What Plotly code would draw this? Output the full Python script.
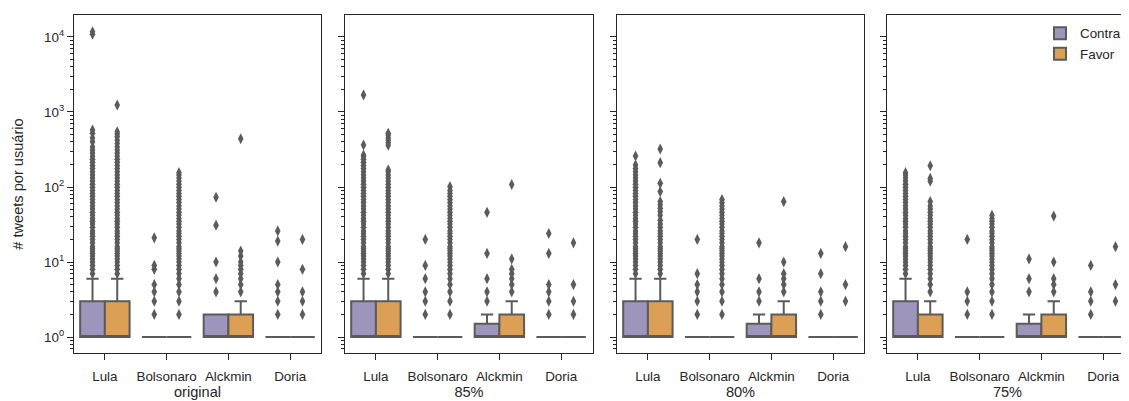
import plotly.graph_objects as go

# ---------------- data ----------------
panels = ["original", "85%", "80%", "75%"]
candidates = ["Lula", "Bolsonaro", "Alckmin", "Doria"]
stances = ["Contra", "Favor"]

# box statistics per panel (rows) and candidate (columns)
contra_q1 = [[1, 1, 1, 1], [1, 1, 1, 1], [1, 1, 1, 1], [1, 1, 1, 1]]
contra_med = [[1, 1, 1, 1], [1, 1, 1, 1], [1, 1, 1, 1], [1, 1, 1, 1]]
contra_q3 = [[3, 1, 2, 1], [3, 1, 1.5, 1], [3, 1, 1.5, 1], [3, 1, 1.5, 1]]
contra_lo = [[1, 1, 1, 1], [1, 1, 1, 1], [1, 1, 1, 1], [1, 1, 1, 1]]
contra_hi = [[6, 1, 2, 1], [6, 1, 2, 1], [6, 1, 2, 1], [6, 1, 2, 1]]

favor_q1 = [[1, 1, 1, 1], [1, 1, 1, 1], [1, 1, 1, 1], [1, 1, 1, 1]]
favor_med = [[1, 1, 1, 1], [1, 1, 1, 1], [1, 1, 1, 1], [1, 1, 1, 1]]
favor_q3 = [[3, 1, 2, 1], [3, 1, 2, 1], [3, 1, 2, 1], [2, 1, 2, 1]]
favor_lo = [[1, 1, 1, 1], [1, 1, 1, 1], [1, 1, 1, 1], [1, 1, 1, 1]]
favor_hi = [[6, 1, 3, 1], [6, 1, 3, 1], [6, 1, 3, 1], [3, 1, 3, 1]]

# outliers, per panel
lula_contra_out = [
    [7, 8, 9, 10, 11, 12, 13, 14, 15, 16, 18, 20, 22, 24, 26, 29, 32, 35, 38, 42, 46, 51, 56, 62, 68, 75,
     82, 90, 99, 109, 120, 132, 145, 160, 176, 194, 213, 234, 257, 283, 311, 342, 400, 450, 520, 575,
     10900, 11700],
    [7, 8, 9, 10, 11, 12, 13, 14, 15, 16, 18, 20, 22, 24, 26, 29, 32, 35, 38, 42, 46, 51, 56, 62, 68, 75,
     82, 90, 99, 109, 120, 132, 145, 160, 176, 194, 213, 234, 257, 267, 363, 1686],
    [7, 8, 9, 10, 11, 12, 13, 14, 15, 16, 18, 20, 22, 24, 26, 29, 32, 35, 38, 42, 46, 51, 56, 62, 68, 75,
     82, 90, 99, 109, 120, 132, 145, 160, 176, 197, 259],
    [7, 8, 9, 10, 11, 12, 13, 14, 15, 16, 18, 20, 22, 24, 26, 29, 32, 35, 38, 42, 46, 51, 56, 62, 68, 75,
     82, 90, 99, 109, 120, 132, 145, 155],
]
lula_favor_out = [
    [7, 8, 9, 10, 11, 12, 13, 14, 15, 16, 18, 20, 22, 24, 26, 29, 32, 35, 38, 42, 46, 51, 56, 62, 68, 75,
     82, 90, 99, 109, 120, 132, 145, 160, 176, 194, 213, 234, 257, 283, 311, 342, 380, 420, 470, 510, 545,
     1240],
    [7, 8, 9, 10, 11, 12, 13, 14, 15, 16, 18, 20, 22, 24, 26, 29, 32, 35, 38, 42, 46, 51, 56, 62, 68, 75,
     82, 90, 99, 109, 120, 132, 145, 160, 169, 360, 390, 420, 450, 490, 520],
    [7, 8, 9, 10, 11, 12, 13, 14, 15, 16, 18, 20, 22, 24, 26, 29, 32, 36, 42, 47, 52, 58, 64, 87, 112,
     211, 321],
    [4, 5, 6, 7, 8, 9, 10, 11, 12, 13, 14, 15, 16, 18, 20, 22, 24, 26, 29, 32, 35, 38, 42, 46, 51, 56, 64,
     120, 130, 192],
]
bolsonaro_contra_out = [
    [2, 3, 4, 5, 8, 9, 21],
    [2, 3, 4, 6, 9, 20],
    [2, 3, 4, 5, 7, 20],
    [2, 3, 4, 20],
]
bolsonaro_favor_out = [
    [2, 3, 4, 5, 6, 7, 8, 9, 10, 11, 12, 13, 14, 15, 16, 18, 20, 22, 24, 26, 29, 32, 35, 38, 42, 46, 51,
     56, 62, 68, 75, 82, 90, 99, 109, 120, 132, 145, 155],
    [2, 3, 4, 5, 6, 7, 8, 9, 10, 11, 12, 13, 14, 15, 16, 18, 20, 22, 24, 26, 29, 32, 35, 38, 42, 46, 51,
     56, 62, 68, 75, 82, 90, 101],
    [2, 3, 4, 5, 6, 7, 8, 9, 10, 11, 12, 13, 14, 15, 16, 18, 20, 22, 24, 26, 29, 32, 35, 38, 42, 46, 51,
     56, 62, 68],
    [2, 3, 4, 5, 6, 7, 8, 9, 10, 11, 12, 13, 14, 15, 16, 18, 20, 22, 24, 26, 29, 32, 35, 38, 42],
]
alckmin_contra_out = [
    [4, 6, 10, 31, 73],
    [3, 4, 6, 13, 46],
    [3, 4, 6, 18],
    [4, 6, 11],
]
alckmin_favor_out = [
    [4, 5, 6, 7, 8, 9, 10, 12, 14, 440],
    [4, 5, 6, 7, 8, 11, 108],
    [4, 5, 6, 7, 10, 64],
    [4, 5, 6, 10, 41],
]
doria_contra_out = [
    [2, 3, 4, 5, 10, 19, 26],
    [2, 3, 4, 5, 13, 24],
    [2, 3, 4, 7, 13],
    [2, 3, 4, 9],
]
doria_favor_out = [
    [2, 3, 4, 8, 20],
    [2, 3, 5, 18],
    [3, 5, 16],
    [3, 5, 16],
]

y_tick_vals = [1, 10, 100, 1000, 10000]
y_tick_text = ["10<sup>0</sup>", "10<sup>1</sup>", "10<sup>2</sup>", "10<sup>3</sup>", "10<sup>4</sup>"]
y_minor_vals = [v * m for v in [0.1, 1, 10, 100, 1000, 10000] for m in range(2, 10)]

# ---------------- styling ----------------
W, H = 1129, 401
OFF = 8  # page offset of the plot inside the browser page
colors = {"Contra": "#9d95bc", "Favor": "#dba056"}
edge = "#5b5b5b"
ink = "#262626"
font_family = "Liberation Sans, Arial, sans-serif"
tick_size = 13.4
label_size = 14.6
panel_px = [(74, 321), (345, 593), (617, 864), (887, 1128)]
y_px = (15, 353)
cat_px = 61.75
offset = {"Contra": -0.2, "Favor": 0.2}
box_w = 0.4

stats = {
    "Contra": (contra_q1, contra_med, contra_q3, contra_lo, contra_hi),
    "Favor": (favor_q1, favor_med, favor_q3, favor_lo, favor_hi),
}
outliers = {
    "Contra": [lula_contra_out, bolsonaro_contra_out, alckmin_contra_out, doria_contra_out],
    "Favor": [lula_favor_out, bolsonaro_favor_out, alckmin_favor_out, doria_favor_out],
}

fig = go.Figure()
for p, pname in enumerate(panels):
    xa = "x" if p == 0 else f"x{p + 1}"
    ya = "y" if p == 0 else f"y{p + 1}"
    for s in stances:
        q1, med, q3, lo, hi = (a[p] for a in stats[s])
        xs = [i + offset[s] for i in range(len(candidates))]
        fig.add_trace(go.Box(
            x=xs, q1=q1, median=med, q3=q3, lowerfence=lo, upperfence=hi,
            width=box_w, whiskerwidth=0.5, boxpoints=False,
            fillcolor=colors[s], line=dict(color=edge, width=2),
            name=s, legendgroup=s, showlegend=(p == len(panels) - 1),
            xaxis=xa, yaxis=ya, hoverinfo="skip",
        ))
        ox, oy = [], []
        for i, lst in enumerate(outliers[s]):
            ox += [i + offset[s]] * len(lst[p])
            oy += lst[p]
        fig.add_trace(go.Scatter(
            x=ox, y=oy, mode="markers",
            marker=dict(symbol="diamond-tall", size=8, color=edge, line=dict(width=0)),
            showlegend=False, xaxis=xa, yaxis=ya, hoverinfo="skip",
        ))

layout = dict(
    width=W, height=H,
    margin=dict(l=0, r=0, t=0, b=0),
    paper_bgcolor="white", plot_bgcolor="white",
    font=dict(family=font_family, size=tick_size, color=ink),
    showlegend=True,
    legend=dict(x=(1040 - OFF) / W, xanchor="left", y=1 - (18 - OFF) / H, yanchor="top",
                bgcolor="rgba(0,0,0,0)", font=dict(size=tick_size, color=ink),
                tracegroupgap=0, itemsizing="constant"),
)
for p, pname in enumerate(panels):
    x0, x1 = panel_px[p]
    xr = [-0.5, -0.5 + (x1 - x0) / cat_px]
    xk = "xaxis" if p == 0 else f"xaxis{p + 1}"
    yk = "yaxis" if p == 0 else f"yaxis{p + 1}"
    ya = "y" if p == 0 else f"y{p + 1}"
    xa = "x" if p == 0 else f"x{p + 1}"
    layout[xk] = dict(
        domain=[(x0 - OFF) / W, (x1 - OFF) / W], range=xr, anchor=ya,
        tickmode="array", tickvals=list(range(len(candidates))), ticktext=candidates,
        ticks="outside", ticklen=6, tickwidth=1.25, tickcolor=ink,
        ticklabelstandoff=5,
        showline=True, linecolor=ink, linewidth=1.25, mirror=True,
        showgrid=False, zeroline=False,
        tickfont=dict(size=tick_size, color=ink),
        title=dict(text=pname, font=dict(size=label_size, color=ink), standoff=2),
        automargin=False,
    )
    layout[yk] = dict(
        domain=[1 - (y_px[1] - OFF) / H, 1 - (y_px[0] - OFF) / H], anchor=xa,
        type="log", range=[-0.213, 4.293],
        tickmode="array", tickvals=y_tick_vals, ticktext=y_tick_text,
        showticklabels=(p == 0),
        ticks="outside", ticklen=6, tickwidth=1.25, tickcolor=ink,
        minor=dict(tickmode="array", tickvals=y_minor_vals, ticks="outside",
                   ticklen=3, tickwidth=1, tickcolor=ink, showgrid=False),
        showline=True, linecolor=ink, linewidth=1.25, mirror=True,
        showgrid=False, zeroline=False,
        tickfont=dict(size=tick_size, color=ink),
        automargin=False,
    )
    if p > 0:
        layout[yk]["matches"] = "y"
layout["yaxis"]["title"] = dict(text="# tweets por usuário", font=dict(size=label_size, color=ink), standoff=16)

fig.update_layout(**layout)
fig.write_html("out.html")
